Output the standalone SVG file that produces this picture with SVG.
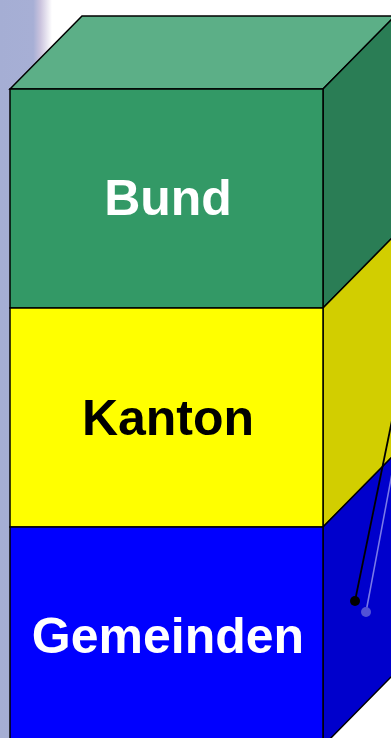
<svg xmlns="http://www.w3.org/2000/svg" width="391" height="738" viewBox="0 0 391 738">
  <defs>
    <linearGradient id="leftbg" x1="0" y1="0" x2="1" y2="0">
      <stop offset="0" stop-color="#A5AED4"/>
      <stop offset="0.64" stop-color="#A7AFD5"/>
      <stop offset="0.78" stop-color="#CBC4DE"/>
      <stop offset="1" stop-color="#FFFFFF"/>
    </linearGradient>
    <style>
      .edge { stroke: #000; stroke-width: 1.5; stroke-linejoin: miter; }
      .lbl { font-family: "Liberation Sans", Arial, sans-serif; font-weight: bold; font-size: 50px; text-anchor: middle; }
    </style>
  </defs>
  <rect x="0" y="0" width="391" height="738" fill="#FFFFFF"/>
  <rect x="0" y="0" width="52" height="738" fill="url(#leftbg)"/>

  <g id="bund">
    <polygon class="edge" points="10,89 82,16 395,16 323,89" fill="#5CAF87"/>
    <polygon class="edge" points="323,89 395,16 395,235 323,308" fill="#2A7D55"/>
    <rect class="edge" x="10" y="89" width="313" height="219" fill="#339966"/>
    <text class="lbl" x="168" y="215" fill="#FFFFFF">Bund</text>
  </g>

  <g id="kanton">
    <polygon class="edge" points="323,308 395,235 395,454 323,527" fill="#D2CE00"/>
    <rect class="edge" x="10" y="308" width="313" height="219" fill="#FFFF00"/>
    <text class="lbl" x="168" y="435" fill="#000000">Kanton</text>
  </g>

  <g id="gemeinden">
    <polygon class="edge" points="323,527 395,454 395,673 323,746" fill="#0000CC"/>
    <rect class="edge" x="10" y="527" width="313" height="219" fill="#0000FF"/>
    <text class="lbl" x="168" y="653" fill="#FFFFFF">Gemeinden</text>
  </g>

  <g id="connectors">
    <line x1="355" y1="601" x2="398" y2="391" stroke="#000000" stroke-width="1.8"/>
    <circle cx="355" cy="601" r="5" fill="#000000"/>
    <line x1="366" y1="612" x2="400" y2="431" stroke="#7A7AE8" stroke-width="1.5"/>
    <circle cx="366" cy="612" r="5" fill="#5252D6"/>
  </g>
</svg>
